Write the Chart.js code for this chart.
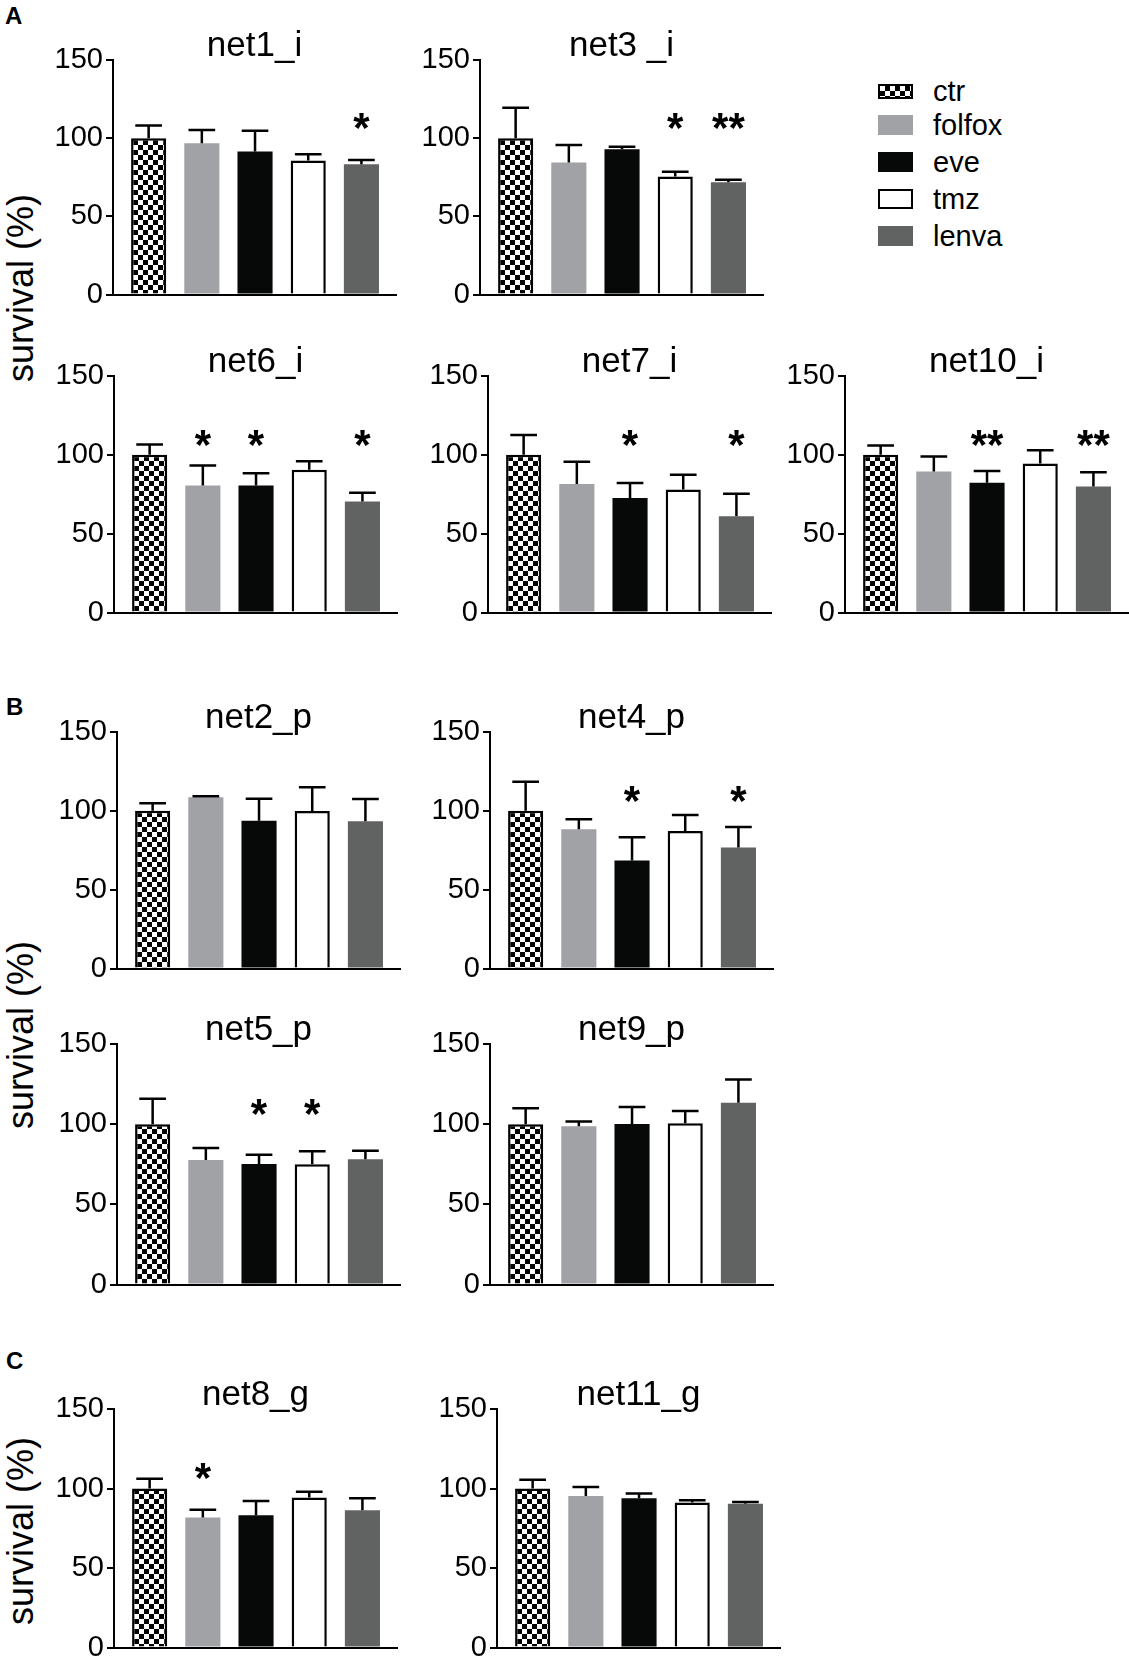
<!DOCTYPE html>
<html>
<head>
<meta charset="utf-8">
<script src="https://cdn.jsdelivr.net/npm/chart.js@4.4.1/dist/chart.umd.min.js"></script>
<style>
    body { margin: 0; background: #fff; width: 1129px; height: 1661px; position: relative; overflow: hidden;
           font-family: "Liberation Sans", Arial, Helvetica, sans-serif; color: #000; }
    .panel { position: absolute; }
    .letter { position: absolute; font-weight: bold; font-size: 24px; line-height: 1; }
    .ylab { position: absolute; font-size: 36px; line-height: 1; white-space: nowrap;
            transform: translate(-50%, -50%) rotate(-90deg); }
    .item { position: absolute; left: 878px; height: 40px; display: flex; align-items: center;
            font-size: 29px; white-space: nowrap; }
    .sw { width: 35px; height: 20px; box-sizing: border-box; margin-right: 20px; }
</style>
</head>
<body>

<div class="letter" style="left:5px;top:4px">A</div>
<div class="letter" style="left:6px;top:695px">B</div>
<div class="letter" style="left:6px;top:1349px">C</div>

<div class="ylab" style="left:21px;top:288px">survival (%)</div>
<div class="ylab" style="left:21px;top:1035px">survival (%)</div>
<div class="ylab" style="left:21px;top:1531px">survival (%)</div>

<div id="legend"></div>

<script>
// treatment groups and axis ticks
const groups = ['ctr', 'folfox', 'eve', 'tmz', 'lenva'];
const yTicks = [0, 50, 100, 150];
const sigLevel = 112; // where the stars sit

// A - ileal
const net1Mean = [100, 96.8, 91.5, 85.7, 83.4];
const net1Sd = [8.1, 8.5, 13.2, 4.1, 2.6];
const net1Sig = ['', '', '', '', '*'];

const net3Mean = [100, 84.4, 92.9, 75.5, 71.9];
const net3Sd = [19.5, 11.2, 1.7, 3.0, 1.5];
const net3Sig = ['', '', '', '*', '**'];

const net6Mean = [100, 80.6, 80.6, 90.5, 70.5];
const net6Sd = [6.5, 12.7, 7.8, 5.5, 5.5];
const net6Sig = ['', '*', '*', '', '*'];

const net7Mean = [100, 81.6, 72.6, 78.0, 61.1];
const net7Sd = [12.6, 14.0, 9.6, 9.4, 14.2];
const net7Sig = ['', '', '*', '', '*'];

const net10Mean = [100, 89.5, 82.4, 94.6, 80.0];
const net10Sd = [6.0, 9.5, 7.3, 8.4, 9.0];
const net10Sig = ['', '', '**', '', '**'];

// B - pancreatic
const net2Mean = [100, 108.6, 93.8, 99.9, 93.4];
const net2Sd = [4.8, 0.6, 13.9, 15.0, 14.1];
const net2Sig = ['', '', '', '', ''];

const net4Mean = [100, 88.4, 68.6, 87.3, 76.8];
const net4Sd = [18.4, 6.3, 14.7, 10.1, 13.0];
const net4Sig = ['', '', '*', '', '*'];

const net5Mean = [100, 77.7, 75.2, 75.0, 78.1];
const net5Sd = [15.9, 7.5, 5.8, 8.1, 5.4];
const net5Sig = ['', '', '*', '*', ''];

const net9Mean = [100, 98.7, 100.2, 100.6, 113.4];
const net9Sd = [10.0, 3.0, 10.5, 7.6, 14.4];
const net9Sig = ['', '', '', '', ''];

// C - gastric
const net8Mean = [100, 81.8, 83.2, 94.3, 86.4];
const net8Sd = [6.2, 4.8, 9.0, 3.7, 7.5];
const net8Sig = ['', '*', '', '', ''];

const net11Mean = [100, 95.3, 93.9, 91.2, 90.5];
const net11Sd = [5.6, 5.7, 2.9, 1.4, 1.1];
const net11Sig = ['', '', '', '', ''];

const FONT = '"Liberation Sans", Arial, Helvetica, sans-serif';

// checker pattern for ctr
const tile = document.createElement('canvas');
tile.width = 10; tile.height = 10;
const tctx = tile.getContext('2d');
tctx.fillStyle = '#fff'; tctx.fillRect(0, 0, 10, 10);
tctx.fillStyle = '#000'; tctx.fillRect(0, 0, 5, 5); tctx.fillRect(5, 5, 5, 5);
const checker = tctx.createPattern(tile, 'repeat');

const fills = [checker, '#a1a2a6', '#070909', '#ffffff', '#616362'];
const borders = [2.5, 0, 0, 2.5, 0];

// error bars, stars and panel title
const decorations = {
    id: 'decorations',
    afterDatasetsDraw(chart) {
        const { ctx, scales: { y }, chartArea } = chart;
        const ds = chart.data.datasets[0];
        const meta = chart.getDatasetMeta(0);
        ctx.save();
        ctx.strokeStyle = '#000';
        ctx.lineWidth = 2.5;
        meta.data.forEach((bar, i) => {
            const top = y.getPixelForValue(ds.data[i].y + ds.sd[i]);
            const half = bar.width * 0.38;
            ctx.beginPath();
            ctx.moveTo(bar.x, bar.y);
            ctx.lineTo(bar.x, top);
            ctx.moveTo(bar.x - half, top);
            ctx.lineTo(bar.x + half, top);
            ctx.stroke();
        });
        ctx.fillStyle = '#000';
        ctx.textAlign = 'center';
        ctx.textBaseline = 'alphabetic';
        ctx.font = 'bold 42px ' + FONT;
        meta.data.forEach((bar, i) => {
            if (ds.sig[i]) ctx.fillText(ds.sig[i], bar.x, y.getPixelForValue(sigLevel) + 23);
        });
        ctx.font = '35px ' + FONT;
        ctx.fillText(ds.label, (chartArea.left + chartArea.right) / 2, chartArea.top - 4);
        ctx.restore();
    }
};

const panels = [
    { title: 'net1_i', mean: net1Mean, sd: net1Sd, sig: net1Sig, x: 113, top: 60, bottom: 295 },
    { title: 'net3 _i', mean: net3Mean, sd: net3Sd, sig: net3Sig, x: 480, top: 60, bottom: 295 },
    { title: 'net6_i', mean: net6Mean, sd: net6Sd, sig: net6Sig, x: 114, top: 376, bottom: 613 },
    { title: 'net7_i', mean: net7Mean, sd: net7Sd, sig: net7Sig, x: 488, top: 376, bottom: 613 },
    { title: 'net10_i', mean: net10Mean, sd: net10Sd, sig: net10Sig, x: 845, top: 376, bottom: 613 },
    { title: 'net2_p', mean: net2Mean, sd: net2Sd, sig: net2Sig, x: 117, top: 732, bottom: 969 },
    { title: 'net4_p', mean: net4Mean, sd: net4Sd, sig: net4Sig, x: 490, top: 732, bottom: 969 },
    { title: 'net5_p', mean: net5Mean, sd: net5Sd, sig: net5Sig, x: 117, top: 1044, bottom: 1285 },
    { title: 'net9_p', mean: net9Mean, sd: net9Sd, sig: net9Sig, x: 490, top: 1044, bottom: 1285 },
    { title: 'net8_g', mean: net8Mean, sd: net8Sd, sig: net8Sig, x: 114, top: 1409, bottom: 1648 },
    { title: 'net11_g', mean: net11Mean, sd: net11Sd, sig: net11Sig, x: 497, top: 1409, bottom: 1648 }
];

function makePanel(p) {
    const wrap = document.createElement('div');
    wrap.className = 'panel';
    const canvas = document.createElement('canvas');
    const plotH = p.bottom - p.top;
    canvas.width = 393;
    canvas.height = plotH + 80;
    wrap.appendChild(canvas);
    document.body.appendChild(wrap);

    const chart = new Chart(canvas, {
        type: 'bar',
        data: {
            datasets: [{
                label: p.title,
                data: p.mean.map((v, i) => ({ x: i, y: v })),
                sd: p.sd,
                sig: p.sig,
                backgroundColor: fills,
                borderColor: '#000',
                borderWidth: borders,
                barPercentage: 0.66,
                categoryPercentage: 1
            }]
        },
        options: {
            responsive: false,
            animation: false,
            events: [],
            layout: { padding: { top: 60, bottom: 20, left: 0, right: 10 } },
            plugins: { legend: { display: false }, tooltip: { enabled: false }, title: { display: false } },
            scales: {
                x: {
                    type: 'linear',
                    offset: false,
                    min: -0.67,
                    max: 4.65,
                    ticks: { display: false },
                    grid: { display: false, drawTicks: false },
                    border: { display: true, color: '#000', width: 2 }
                },
                y: {
                    min: 0,
                    max: 150,
                    afterBuildTicks: s => { s.ticks = yTicks.map(v => ({ value: v })); },
                    afterFit: s => { s.width = 100; },
                    ticks: { color: '#000', padding: 3, font: { size: 29, family: FONT } },
                    grid: { drawOnChartArea: false, drawTicks: true, tickLength: 7, color: '#000', lineWidth: 2 },
                    border: { display: true, color: '#000', width: 2 }
                }
            }
        },
        plugins: [decorations]
    });

    const diff = (chart.chartArea.bottom - chart.chartArea.top) - plotH;
    if (diff !== 0) {
        chart.options.layout.padding.bottom += diff;
        chart.update();
    }
    wrap.style.left = (p.x - chart.chartArea.left) + 'px';
    wrap.style.top = (p.top - chart.chartArea.top) + 'px';
}

panels.forEach(makePanel);

// legend
const legendRows = [91, 125, 162, 199, 236];
const swatchCss = [
    'height:15px;border:2px solid #000;background:repeating-conic-gradient(#000 0 25%, #fff 0 50%) 0 0/10px 10px',
    'background:#a1a2a6',
    'background:#070909',
    'border:2.5px solid #000;background:#fff',
    'background:#616362'
];
const legend = document.getElementById('legend');
groups.forEach((g, i) => {
    const row = document.createElement('div');
    row.className = 'item';
    row.style.top = (legendRows[i] - 20) + 'px';
    row.innerHTML = '<div class="sw" style="' + swatchCss[i] + '"></div><span>' + g + '</span>';
    legend.appendChild(row);
});
</script>
</body>
</html>
